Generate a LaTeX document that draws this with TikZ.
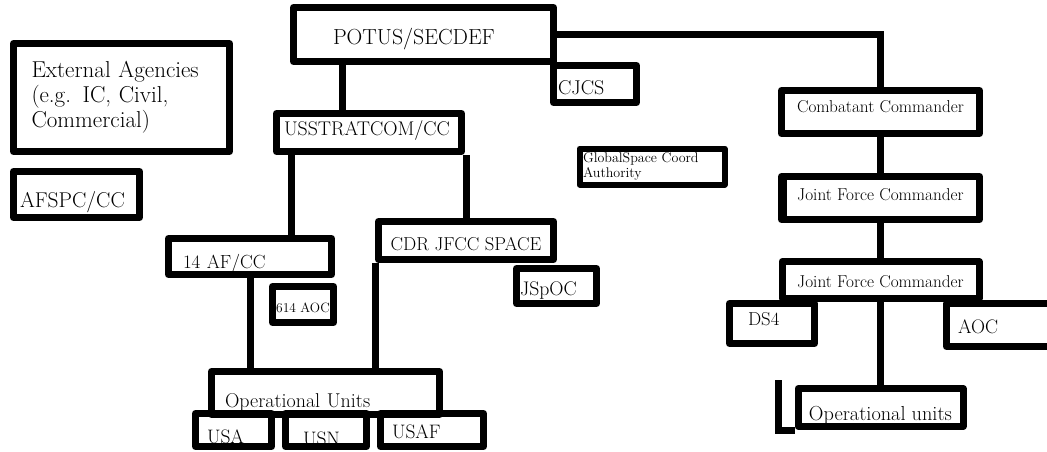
\documentclass[tikz,border=0pt]{standalone}
\usetikzlibrary{positioning}
\tikzset{unit/.style={draw, line width=7pt, line join=round, inner sep=0pt}}
\tikzset{link/.style={line width=7pt}}
\tikzset{sz/.style={font=\fontsize{#1}{#1}\selectfont}}
\tikzset{lt/.style 2 args={text width=#1, inner xsep=#2, align=left}}
\tikzset{tbox/.style 2 args={text height=#1, text depth=#2}}

\begin{document}
\begin{tikzpicture}[x=1pt, y=-1pt]
\useasboundingbox (0,0) rectangle (1047,452);
\begin{scope}[on grid]
\node[unit, sz=21.8, minimum width=260, minimum height=54, lt={181pt}{39.5pt}, tbox={36.5pt}{15.5pt}] (potus) at (423.5, 34.5) {POTUS/SECDEF};
\node[unit, sz=20, minimum width=83, minimum height=37, lt={74pt}{4.5pt}, tbox={28.5pt}{6.5pt}] (cjcs) at (595, 84) {CJCS};

\node[unit, font=\fontsize{23}{25}\selectfont, minimum width=216, minimum height=108, lt={180pt}{18pt}] (ext) at (121.5, 97.5) {External Agencies\\(e.g. IC, Civil,\\Commercial)};
\node[unit, sz=21.4, minimum width=126, minimum height=46, lt={113pt}{6.5pt}, tbox={34.5pt}{9.5pt}] (afspc) at (76.5, 194.5) {AFSPC/CC};

\node[unit, sz=19.8, minimum width=185, minimum height=38, lt={170pt}{7.5pt}, tbox={20.5pt}{15.5pt}] (strat) at (369, 132.5) {USSTRATCOM/CC};
\node[unit, line width=6pt, font=\fontsize{14}{15}\selectfont, minimum width=145, minimum height=36, lt={138pt}{3.5pt}] (gsca) at (652, 166.5) {GlobalSpace Coord\\Authority};

\node[unit, sz=19, minimum width=163, minimum height=36, lt={134pt}{14.5pt}, tbox={28.5pt}{5.5pt}] (af14) at (250, 256.5) {14 AF/CC};
\node[unit, sz=13.5, minimum width=61, minimum height=36, tbox={24.5pt}{9.5pt}] (aoc614) at (303, 304.5) {614 AOC};
\node[unit, sz=18.7, minimum width=175, minimum height=38, tbox={27.5pt}{8.5pt}] (jfcc) at (466, 240.5) {CDR JFCC SPACE};
\node[unit, sz=19.7, minimum width=80, minimum height=35, lt={73pt}{3.5pt}, tbox={25.5pt}{7.5pt}] (jspoc) at (556.5, 286) {JSpOC};

\node[unit, sz=20, minimum width=228, minimum height=43, lt={201pt}{13.5pt}, tbox={34.5pt}{6.5pt}] (opu) at (325.5, 393) {Operational Units};
\node[unit, sz=19.5, minimum width=76, minimum height=33, lt={53pt}{11.5pt}, tbox={28.5pt}{2.5pt}] (usa) at (233.5, 430) {USA};
\node[unit, sz=19.5, minimum width=81, minimum height=33, lt={46pt}{17.5pt}, tbox={30.5pt}{0.5pt}] (usn) at (326, 430) {USN};
\node[unit, sz=19.5, minimum width=103, minimum height=33, lt={80pt}{11.5pt}, tbox={23.5pt}{7.5pt}] (usaf) at (432, 430) {USAF};

\node[unit, sz=17.2, minimum width=198, minimum height=43, tbox={20.5pt}{20.5pt}] (cc) at (880.5, 112) {Combatant Commander};
\node[unit, sz=17.2, minimum width=198, minimum height=43, tbox={22.5pt}{18.5pt}] (jfc1) [below = 86pt of cc] {Joint Force Commander};
\node[unit, sz=17.2, minimum width=197, minimum height=37, tbox={24.5pt}{10.5pt}] (jfc2) [below = 82pt of jfc1] {Joint Force Commander};
\node[unit, sz=18.7, minimum width=85, minimum height=40, lt={48pt}{18.5pt}, tbox={20.5pt}{17.5pt}] (ds4) at (772, 323.5) {DS4};
\node[unit, sz=19.5, minimum width=120, minimum height=43, lt={97pt}{11.5pt}, tbox={28.5pt}{12.5pt}] (aoc) at (1006.5, 325) {AOC};
\node[unit, sz=20.3, minimum width=165, minimum height=38, tbox={30.5pt}{5.5pt}] (opr) [below = 127.5pt of jfc2] {Operational units};
\end{scope}

% chain of command
\draw[link] ([xshift=-27pt]strat.north) -- ([xshift=-27pt]strat.north |- potus.south);
\draw[link] (potus.east) -| (cc.north);
\draw[link] (cc.south) -- (jfc1.north);
\draw[link] (jfc1.south) -- (jfc2.north);
\draw[link] (jfc2.south) -- (opr.north);
\draw[link] ([xshift=-16pt, yshift=5pt]opr.north west) |- (opr.south west);
\draw[line width=2pt] ([xshift=7.5pt]jfc1.north west) -- ([xshift=7.5pt]jfc1.south west);

\draw[link] ([xshift=18.5pt]strat.south west) -- ([xshift=18.5pt]strat.south west |- af14.north);
\draw[link] (jfcc.north) -- (jfcc.north |- strat.south);
\draw[link] (af14.south) -- (af14.south |- opu.north);
\draw[link] (jfcc.south west) -- (jfcc.south west |- opu.north);
\end{tikzpicture}
\end{document}
